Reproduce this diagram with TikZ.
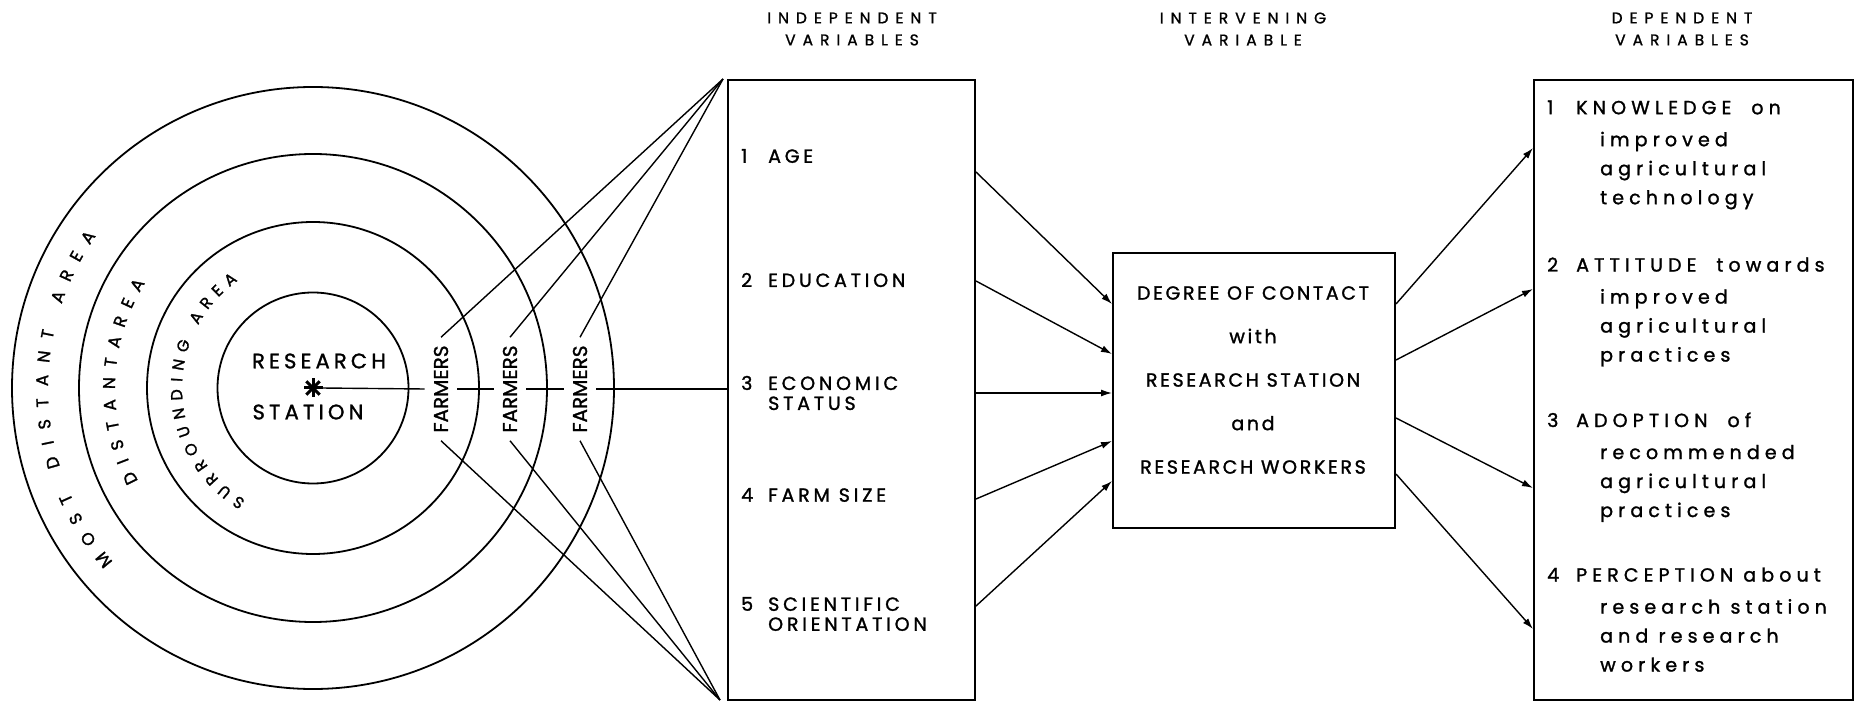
\documentclass[tikz,border=0pt]{standalone}
\usepackage{fontspec}
\setmainfont{Poppins}
\newfontfamily\headfont[LetterSpace=45,FakeBold=1.2]{Poppins}
\newfontfamily\itemfont[LetterSpace=20,FakeBold=1.4]{Poppins}
\newfontfamily\midfont[LetterSpace=14,FakeBold=1.4]{Poppins}
\newfontfamily\depfont[LetterSpace=27,FakeBold=1.4]{Poppins}
\newfontfamily\plainfont[FakeBold=1.4]{Poppins}
\usetikzlibrary{arrows.meta,decorations.text}

\begin{document}
\begin{tikzpicture}[x=1pt, y=1pt, >={Latex[length=11pt,width=7pt]},
  ring/.style={line width=1.8pt},
  wire/.style={line width=1.4pt},
  box/.style={draw, line width=2pt, inner sep=0pt},
  head/.style={align=center, font=\headfont\fontsize{15.5pt}{22pt}\selectfont},
  station/.style={inner sep=0pt, font=\itemfont\fontsize{21pt}{21pt}\selectfont},
  farmer/.style={rotate=90, inner xsep=8pt, inner ysep=9pt, font=\plainfont\fontsize{20pt}{20pt}\selectfont},
  ind/.style={anchor=west, inner sep=0pt, align=left, font=\itemfont\fontsize{19pt}{20pt}\selectfont},
  contact/.style={inner sep=0pt, align=center, font=\midfont\fontsize{19pt}{43.5pt}\selectfont},
  depitem/.style={anchor=north west, inner sep=0pt, align=left, font=\depfont\fontsize{19pt}{29pt}\selectfont},
  area/.style 2 args={decorate, decoration={text along path, text align={fit to path},
    text={|\plainfont\fontsize{#1}{#1}\selectfont|#2}}}]
\useasboundingbox (0,0) rectangle (1862,702);

% rings round the station
\coordinate (c) at (313,314);
\draw[ring] (c) circle (95.5pt);
\draw[ring] (c) circle (166pt);
\draw[ring] (c) circle (234pt);
\draw[ring] (c) circle (301pt);

\path[area={16pt}{SURROUNDING AREA}] (c) ++(239:131pt) arc[start angle=239, end angle=125, radius=131pt];
\path[area={17pt}{DISTANTAREA}] (c) ++(208:198pt) arc[start angle=208, end angle=148, radius=198pt];
\path[area={17pt}{MOST DISTANT AREA}] (c) ++(221:265pt) arc[start angle=221, end angle=145, radius=265pt];

% the station itself
\node[inner sep=8pt] (stn) at (c) {};
\foreach \a in {0,45,90,135}
  \draw[line width=3pt] ([shift={(\a:9.5pt)}]c) -- ([shift={(\a:-9.5pt)}]c);
\node[station] (res) at (319,341) {RESEARCH};
\node[station] (sta) at (308,290) {STATION};

\node[farmer] (f1) at (441,313) {FARMERS};
\node[farmer] (f2) at (510,313) {FARMERS};
\node[farmer] (f3) at (580,313) {FARMERS};

% boxes
\node[box, minimum width=247pt, minimum height=620pt] (indep) at (851.5,312) {};
\node[box, minimum width=282pt, minimum height=275pt] (interv) at (1254,311.5) {};
\node[box, minimum width=319pt, minimum height=620pt] (dep) at (1693.5,312) {};

\node[head] (hind) at (852,673) {INDEPENDENT\\VARIABLES};
\node[head] (hint) at (1243,673) {INTERVENING\\VARIABLE};
\node[head] (hdep) at (1682,673) {DEPENDENT\\VARIABLES};

% farmers tied to the variable box
\coordinate (ftop) at (723,623);
\coordinate (fbot) at (720,2);
\path[draw,wire] (ftop) -- (f1.east);
\path[draw,wire] (ftop) -- (f2.east);
\path[draw,wire] (ftop) -- (f3.east);
\path[draw,wire] (fbot) -- (f1.west);
\path[draw,wire] (fbot) -- (f2.west);
\path[draw,wire] (fbot) -- (f3.west);

\path[draw,wire] (stn.east) -- (f1.north);
\path[draw,wire] (f1.south) -- (f2.north);
\path[draw,wire] (f2.south) -- (f3.north);
\path[draw,wire] (f3.south) -- (f3.south -| indep.west);

% independent variables
\node[ind] (i1) at (741,546) {\makebox[27pt][l]{1}AGE};
\node[ind] (i2) at (741,422) {\makebox[27pt][l]{2}EDUCATION};
\node[ind] (i3) at (741,309) {\makebox[27pt][l]{3}ECONOMIC\\\hspace*{27pt}STATUS};
\node[ind] (i4) at (741,207) {\makebox[27pt][l]{4}FARM SIZE};
\node[ind] (i5) at (741,88) {\makebox[27pt][l]{5}SCIENTIFIC\\\hspace*{27pt}ORIENTATION};

\node[contact] (ctext) at (1253,322) {DEGREE OF CONTACT\\with\\RESEARCH STATION\\and\\RESEARCH WORKERS};

% dependent variables
\node[depitem] (d1) at (1547,601.7) {\makebox[29pt][l]{1}KNOWLEDGE\hspace{20pt}on\\[3pt]
  \hspace*{53pt}improved\\\hspace*{53pt}agricultural\\\hspace*{53pt}technology};
\node[depitem] (d2) at (1547,444.7) {\makebox[29pt][l]{2}ATTITUDE\hspace{20pt}towards\\[3pt]
  \hspace*{53pt}improved\\\hspace*{53pt}agricultural\\\hspace*{53pt}practices};
\node[depitem] (d3) at (1547,289.7) {\makebox[29pt][l]{3}ADOPTION\hspace{20pt}of\\[3pt]
  \hspace*{53pt}recommended\\\hspace*{53pt}agricultural\\\hspace*{53pt}practices};
\node[depitem] (d4) at (1547,134.7) {\makebox[29pt][l]{4}PERCEPTION\hspace{10pt}about\\[3pt]
  \hspace*{53pt}research station\\\hspace*{53pt}and research\\\hspace*{53pt}workers};

% arrows
\path[draw,wire,->] ([yshift=218pt]indep.east) -- ([yshift=86.5pt]interv.west);
\path[draw,wire,->] ([yshift=109pt]indep.east) -- ([yshift=36.5pt]interv.west);
\path[draw,wire,->] ([yshift=-3pt]indep.east) -- ([yshift=-2.5pt]interv.west);
\path[draw,wire,->] ([yshift=-109pt]indep.east) -- ([yshift=-50.5pt]interv.west);
\path[draw,wire,->] ([yshift=-216pt]indep.east) -- ([yshift=-90.5pt]interv.west);

\path[draw,wire,->] ([yshift=86.5pt]interv.east) -- ([yshift=242pt]dep.west);
\path[draw,wire,->] ([yshift=30.5pt]interv.east) -- ([yshift=101pt]dep.west);
\path[draw,wire,->] ([yshift=-27.5pt]interv.east) -- ([yshift=-98pt]dep.west);
\path[draw,wire,->] ([yshift=-83.5pt]interv.east) -- ([yshift=-239pt]dep.west);
\end{tikzpicture}
\end{document}
